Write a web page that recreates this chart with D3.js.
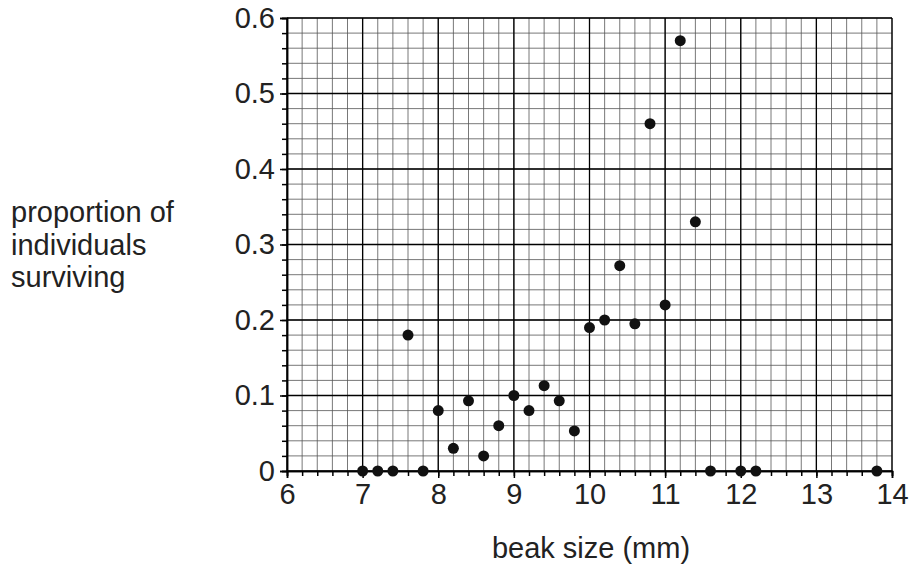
<!DOCTYPE html>
<html><head><meta charset="utf-8">
<script src="https://cdn.jsdelivr.net/npm/d3@7"></script>
<style>body{margin:0;background:#fff}text{font-family:Arial,"Liberation Sans",sans-serif}</style>
</head><body><svg width="910" height="572"></svg>
<script>
// beak sizes (mm) and proportion surviving
const beakSize = [7, 7.2, 7.4, 7.6, 7.8, 8, 8.2, 8.4, 8.6, 8.8, 9, 9.2, 9.4, 9.6, 9.8, 10, 10.2, 10.4, 10.6, 10.8, 11, 11.2, 11.4, 11.6, 12, 12.2, 13.8];
const surviving = [0, 0, 0, 0.18, 0, 0.08, 0.03, 0.093, 0.02, 0.06, 0.1, 0.08, 0.113, 0.093, 0.053, 0.19, 0.2, 0.272, 0.195, 0.46, 0.22, 0.57, 0.33, 0, 0, 0, 0];
const xTicks = [6, 7, 8, 9, 10, 11, 12, 13, 14];
const yTicks = [0, 0.1, 0.2, 0.3, 0.4, 0.5, 0.6];

const svg = d3.select('svg');
const x = d3.scaleLinear().domain([6, 14]).range([287, 892]);
const y = d3.scaleLinear().domain([0, 0.6]).range([471, 18]);

// minor grid
const xMinor = d3.range(6, 14.001, 0.2);
const yMinor = d3.range(0, 0.6001, 0.02);
const g = svg.append('g');
g.selectAll('.vx').data(xMinor).join('line')
  .attr('x1', d => x(d)).attr('x2', d => x(d)).attr('y1', y(0)).attr('y2', y(0.6))
  .attr('stroke', '#555').attr('stroke-width', 0.8);
g.selectAll('.hy').data(yMinor).join('line')
  .attr('y1', d => y(d)).attr('y2', d => y(d)).attr('x1', x(6)).attr('x2', x(14))
  .attr('stroke', '#555').attr('stroke-width', 0.8);
// major grid
g.selectAll('.mx').data(xTicks).join('line')
  .attr('x1', d => x(d)).attr('x2', d => x(d)).attr('y1', y(0)).attr('y2', y(0.6))
  .attr('stroke', '#000').attr('stroke-width', 1.3);
g.selectAll('.my').data(yTicks).join('line')
  .attr('y1', d => y(d)).attr('y2', d => y(d)).attr('x1', x(6)).attr('x2', x(14))
  .attr('stroke', '#000').attr('stroke-width', 1.3);

// axes
const xAxis = d3.axisBottom(x).tickValues(xTicks).tickSize(7).tickPadding(5);
const yAxis = d3.axisLeft(y).tickValues(yTicks).tickSize(7).tickPadding(5).tickFormat(d => d === 0 ? '0' : d3.format('.1f')(d));
svg.append('g').attr('transform', `translate(0,${y(0)})`).call(xAxis);
svg.append('g').attr('transform', `translate(${x(6)},0)`).call(yAxis);
svg.append('g').attr('transform', `translate(0,${y(0)})`)
  .call(d3.axisBottom(x).tickValues(xMinor).tickSize(5).tickFormat(''));
svg.append('g').attr('transform', `translate(${x(6)},0)`)
  .call(d3.axisLeft(y).tickValues(yMinor).tickSize(5).tickFormat(''));
svg.selectAll('.domain').attr('stroke-width', 1.5);
svg.selectAll('.tick line').attr('stroke-width', 1.5);
svg.selectAll('.tick text').style('font-size', '29px').attr('fill', '#222');

// points
svg.selectAll('.pt').data(beakSize).join('circle')
  .attr('cx', d => x(d)).attr('cy', (d, i) => y(surviving[i])).attr('r', 5.5).attr('fill', '#111');

// labels
svg.append('text').attr('x', 591).attr('y', 558).attr('text-anchor', 'middle').attr('fill', '#222').style('font-size', '29px').text('beak size (mm)');
const yl = svg.append('text').attr('fill', '#222').style('font-size', '29px');
['proportion of', 'individuals', 'surviving'].forEach((t, i) => yl.append('tspan').attr('x', 11).attr('y', 222 + i * 32.5).text(t));
</script></body></html>
